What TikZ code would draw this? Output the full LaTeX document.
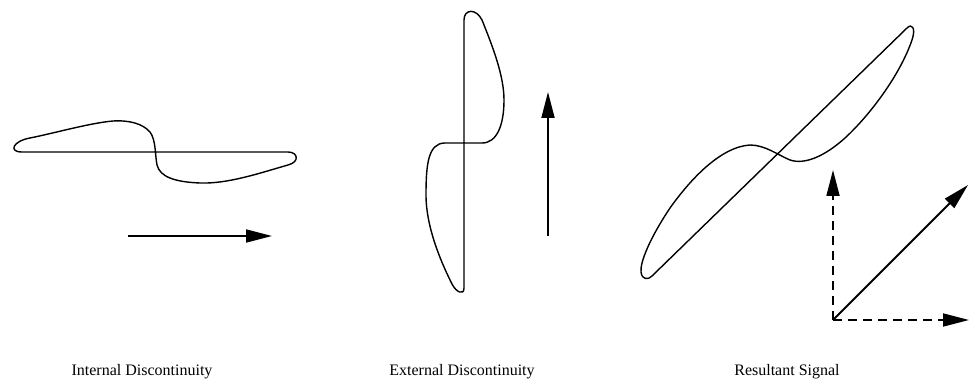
\documentclass[tikz,border=0pt]{standalone}
\usepackage{fontspec}
\setmainfont{Liberation Serif}
\usetikzlibrary{arrows.meta}
\tikzset{
  curve/.style={line width=1.4pt, line join=round},
  vec/.style={line width=1.8pt, -{Triangle[length=26pt,width=13pt]}},
  dvec/.style={vec, dash pattern=on 9pt off 6pt},
  caption/.style={font=\fontsize{16}{18}\selectfont, inner sep=0pt}
}
\begin{document}
\begin{tikzpicture}[x=1pt,y=-1pt]
\useasboundingbox (0,0) rectangle (969,382);
% Internal discontinuity
\draw[curve] (22,152) -- (288,152) .. controls (298,152) and (300,162) .. (288,165)
  .. controls (260,173) and (228,184) .. (200,183)
  .. controls (175,182) and (160,177) .. (157,165)
  .. controls (155,155) and (156,140) .. (150,132)
  .. controls (143,124) and (130,120) .. (113,121)
  .. controls (90,123) and (55,133) .. (30,138)
  .. controls (13,141) and (8,152) .. (22,152) -- cycle;
\coordinate (a1s) at (128,236);
\coordinate (a1e) at (272,236);
\draw[vec] (a1s) -- (a1e);
% External discontinuity
\draw[curve] (464,288) -- (464,20) .. controls (464,9) and (476,8) .. (482,20)
  .. controls (492,45) and (504,75) .. (504,100)
  .. controls (504,125) and (497,143) .. (482,143) -- (445,143)
  .. controls (428,143) and (426,165) .. (426,195)
  .. controls (426,230) and (444,268) .. (452,284)
  .. controls (456,292) and (464,296) .. (464,288) -- cycle;
\coordinate (a2s) at (548,236);
\coordinate (a2e) at (548,92);
\draw[vec] (a2s) -- (a2e);
% Resultant signal
\draw[curve] (652,276) -- (907,28) .. controls (912,23) and (916,28) .. (912,40)
  .. controls (900,75) and (870,115) .. (845,138)
  .. controls (825,156) and (805,165) .. (790,160)
  .. controls (778,155) and (765,145) .. (750,145)
  .. controls (720,147) and (690,180) .. (670,208)
  .. controls (650,238) and (640,262) .. (641,272)
  .. controls (642,280) and (648,280) .. (652,276) -- cycle;
\coordinate (o) at (833,320);
\coordinate (up) at (833,170);
\coordinate (rt) at (969,320);
\coordinate (dg) at (968,185);
\draw[dvec] (o) -- (up);
\draw[dvec] (o) -- (rt);
\draw[vec] (o) -- (dg);
% captions
\node[caption] (l1) at (142,372) {Internal Discontinuity};
\node[caption] (l2) at (462,372) {External Discontinuity};
\node[caption] (l3) at (787,372) {Resultant Signal};
\end{tikzpicture}
\end{document}
